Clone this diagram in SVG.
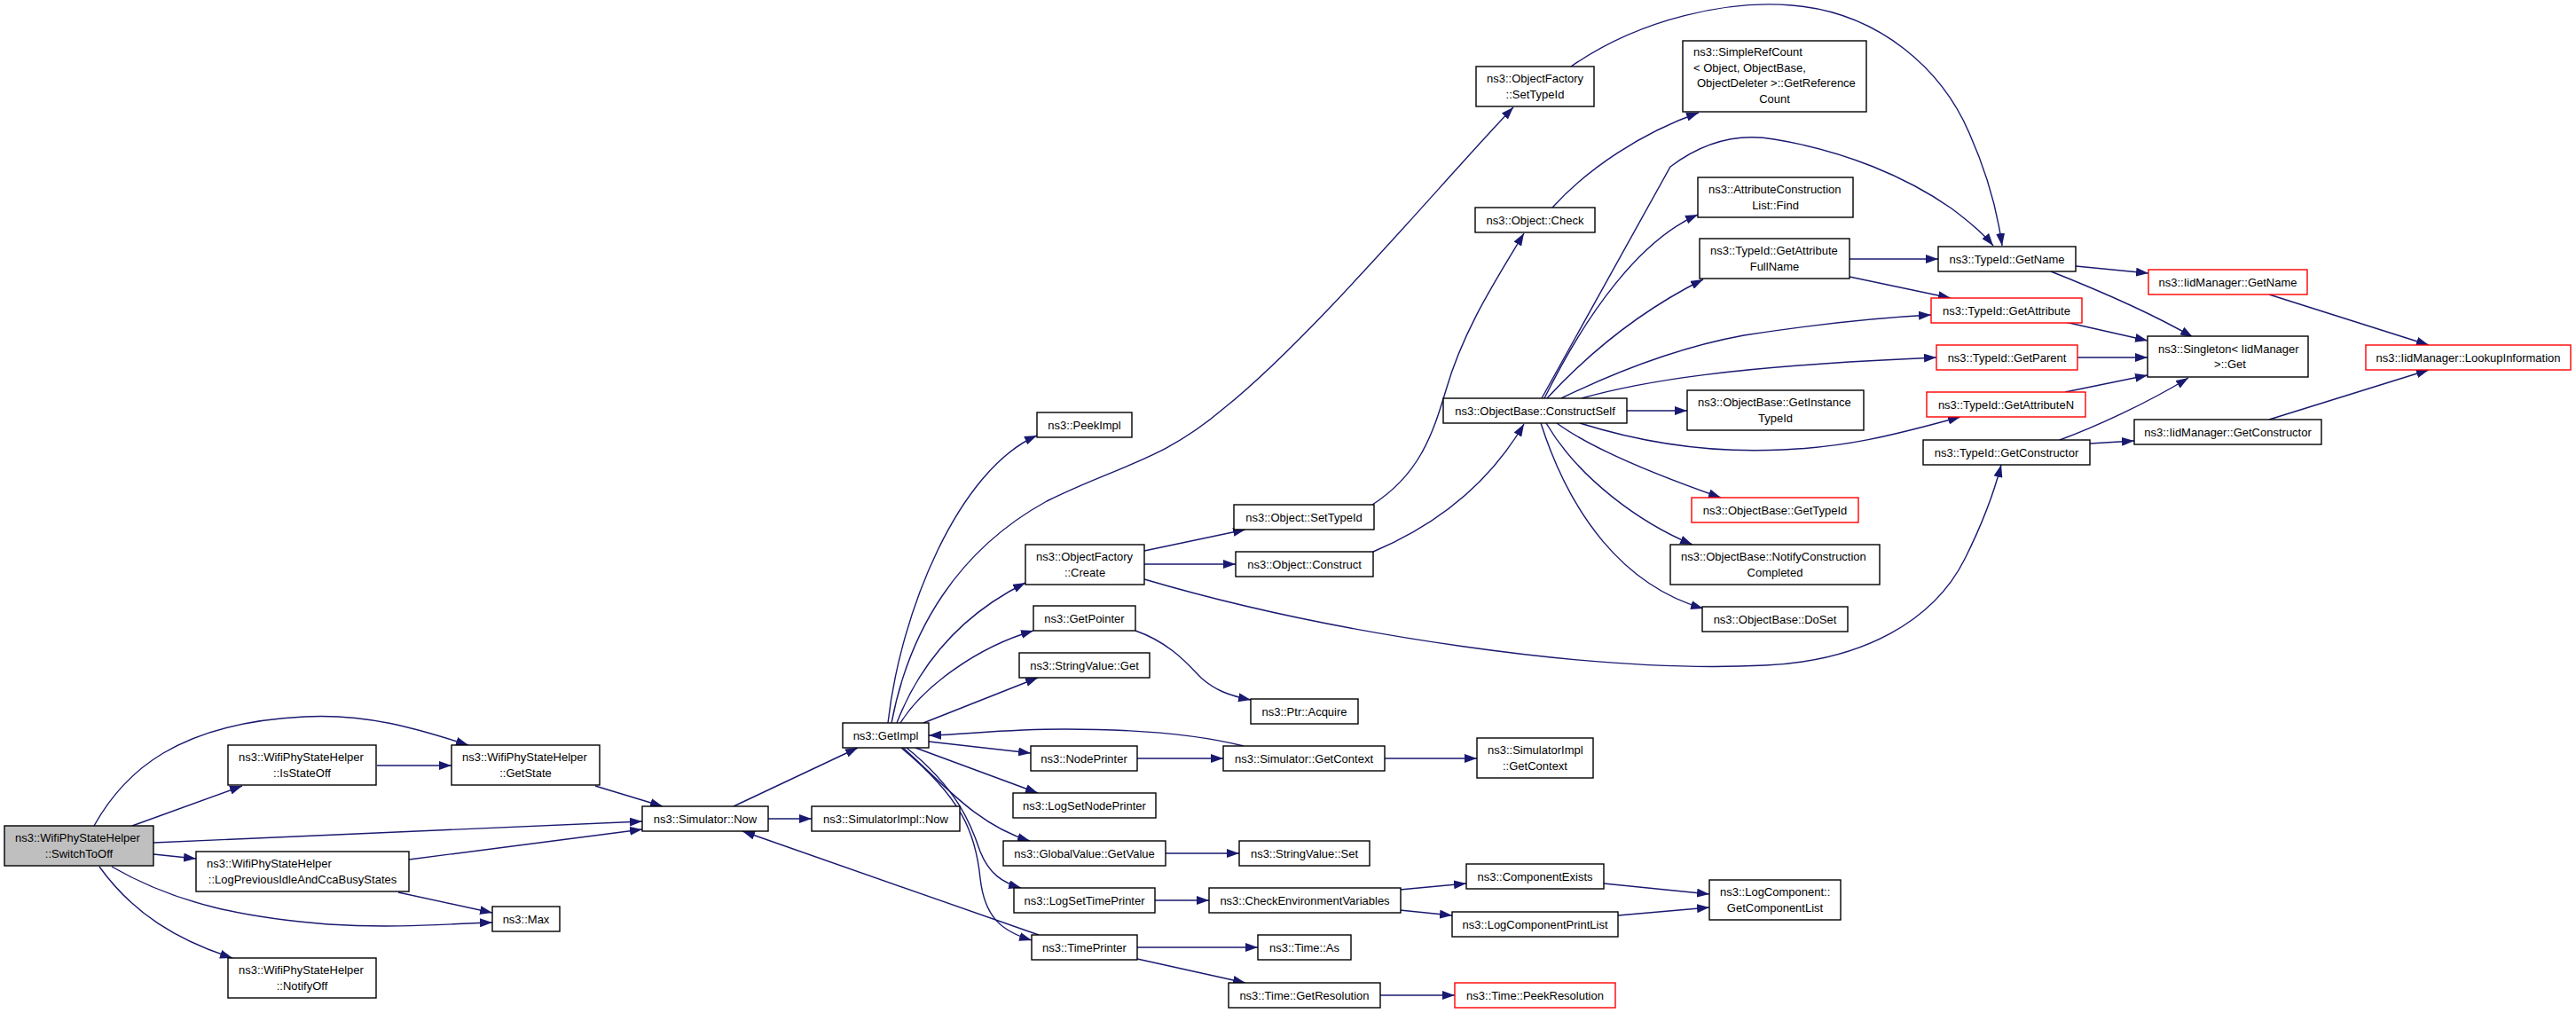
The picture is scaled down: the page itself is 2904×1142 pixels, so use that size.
<svg xmlns="http://www.w3.org/2000/svg" width="2904" height="1142" viewBox="0 0 2904 1142">
<defs>
<marker id="a" markerUnits="userSpaceOnUse" markerWidth="14" markerHeight="10" viewBox="0 0 14 10" refX="14" refY="5" orient="auto"><path d="M0,0 L14,5 L0,10 z" fill="#191970"/></marker>
<style>
.n rect{fill:#fff;stroke:#000;stroke-width:1.4}
.r rect{stroke:#f00}
.g rect{fill:#bfbfbf}
text{font-family:"Liberation Sans",Arial,Helvetica,sans-serif;font-size:13px;fill:#000}
.c{text-anchor:middle}
.e path{fill:none;stroke:#191970;stroke-width:1.4;marker-end:url(#a)}
</style>
</defs>
<rect width="2904" height="1142" fill="#fff"/>
<g id="edges" class="e">
<path d="M106,931 C140,870 200,815 343,808 C420,804 480,825 528,840"/>
<path d="M149,931 L273,886"/>
<path d="M173,950 L724,926"/>
<path d="M173,963 L221,968"/>
<path d="M126,977 C200,1020 280,1035 370,1042 C450,1047 510,1041 555,1040"/>
<path d="M112,977 C150,1030 200,1060 262,1080"/>
<path d="M425,863 L509,863"/>
<path d="M671,886 L747,909"/>
<path d="M461,969 L724,935"/>
<path d="M449,1006 L555,1029"/>
<path d="M827,909 L967,843"/>
<path d="M866,923 L915,923"/>
<path d="M1171,1054 L837,937"/>
<path d="M1001,815 C1015,690 1080,530 1169,491"/>
<path d="M1005,815 C1025,710 1080,620 1180,565 C1260,525 1310,520 1380,460 C1480,380 1630,200 1706,121"/>
<path d="M1011,815 C1040,740 1090,690 1156,657"/>
<path d="M1015,815 C1040,775 1100,730 1165,711"/>
<path d="M1041,815 L1170,764"/>
<path d="M1047,836 L1162,849"/>
<path d="M1032,843 L1170,894"/>
<path d="M1018,843 C1060,880 1100,930 1161,948"/>
<path d="M1022,843 C1080,890 1095,930 1105,960 C1115,985 1130,995 1151,1001"/>
<path d="M1016,843 C1085,900 1100,940 1105,990 C1110,1035 1130,1050 1163,1060"/>
<path d="M1402,841 C1350,828 1280,822 1200,822 C1130,822 1090,828 1047,829"/>
<path d="M1282,855 L1379,855"/>
<path d="M1280,711 C1320,725 1340,750 1355,765 C1370,778 1385,784 1410,789"/>
<path d="M1290,621 L1404,597"/>
<path d="M1290,636 L1393,636"/>
<path d="M1290,653 C1500,715 1800,760 1990,750 C2100,745 2180,700 2215,630 C2235,590 2248,555 2256,524"/>
<path d="M1547,569 C1600,535 1615,490 1630,440 C1650,370 1690,310 1718,263"/>
<path d="M1548,622 C1600,600 1670,560 1718,478"/>
<path d="M1750,234 C1790,190 1850,150 1915,127"/>
<path d="M1771,75 C1850,20 1950,0 2020,6 C2120,14 2190,80 2220,150 C2240,195 2252,240 2257,277"/>
<path d="M1738,449 L1883,188 C1920,160 1960,150 2000,157 C2080,170 2150,200 2200,235 C2220,250 2235,262 2247,277"/>
<path d="M1741,449 C1790,350 1850,270 1914,242"/>
<path d="M1744,449 C1780,410 1840,355 1920,315"/>
<path d="M1760,449 C1830,415 1900,390 1966,378 C2050,365 2120,358 2177,355"/>
<path d="M1783,449 C1850,430 1950,413 2183,403"/>
<path d="M1834,463 L1902,463"/>
<path d="M1781,477 C1870,505 1950,510 2010,507 C2080,504 2130,492 2210,470"/>
<path d="M1755,477 C1800,510 1880,540 1940,561"/>
<path d="M1743,477 C1780,540 1850,590 1908,614"/>
<path d="M1737,477 C1770,580 1830,660 1920,686"/>
<path d="M2085,292 L2185,292"/>
<path d="M2085,312 L2199,336"/>
<path d="M2340,300 L2422,308"/>
<path d="M2312,306 C2360,325 2420,350 2472,380"/>
<path d="M2328,363 L2421,384"/>
<path d="M2342,403 L2421,403"/>
<path d="M2328,442 L2421,423"/>
<path d="M2322,496 C2360,482 2420,455 2467,426"/>
<path d="M2356,500 L2406,497"/>
<path d="M2558,473 L2738,417"/>
<path d="M2558,332 L2738,389"/>
<path d="M1561,855 L1665,855"/>
<path d="M1314,962 L1397,962"/>
<path d="M1302,1015 L1363,1015"/>
<path d="M1578,1003 L1653,996"/>
<path d="M1578,1026 L1637,1032"/>
<path d="M1808,996 L1927,1008"/>
<path d="M1824,1032 L1927,1023"/>
<path d="M1282,1068 L1418,1068"/>
<path d="M1282,1081 L1404,1108"/>
<path d="M1556,1122 L1640,1122"/>
</g>
<g id="switchtooff" class="n g"><rect x="5" y="931" width="168" height="45"/><text x="17" y="949">ns3::WifiPhyStateHelper</text><text class="c" x="89" y="966.5">::SwitchToOff</text></g>
<g id="isstateoff" class="n"><rect x="257" y="840" width="167" height="45"/><text x="269" y="858">ns3::WifiPhyStateHelper</text><text class="c" x="340.5" y="875.5">::IsStateOff</text></g>
<g id="getstate" class="n"><rect x="509" y="840" width="167" height="45"/><text x="521" y="858">ns3::WifiPhyStateHelper</text><text class="c" x="592.5" y="875.5">::GetState</text></g>
<g id="logprev" class="n"><rect x="221" y="960" width="240" height="45"/><text x="233" y="978">ns3::WifiPhyStateHelper</text><text class="c" x="341" y="995.5">::LogPreviousIdleAndCcaBusyStates</text></g>
<g id="max" class="n"><rect x="555" y="1022" width="76" height="28"/><text class="c" x="593" y="1041">ns3::Max</text></g>
<g id="notifyoff" class="n"><rect x="257" y="1080" width="167" height="45"/><text x="269" y="1098">ns3::WifiPhyStateHelper</text><text class="c" x="340.5" y="1115.5">::NotifyOff</text></g>
<g id="simnow" class="n"><rect x="724" y="909" width="142" height="28"/><text class="c" x="795" y="928">ns3::Simulator::Now</text></g>
<g id="simimplnow" class="n"><rect x="915" y="909" width="167" height="28"/><text class="c" x="998.5" y="928">ns3::SimulatorImpl::Now</text></g>
<g id="getimpl" class="n"><rect x="950" y="815" width="97" height="28"/><text class="c" x="998.5" y="834">ns3::GetImpl</text></g>
<g id="peekimpl" class="n"><rect x="1169" y="465" width="107" height="28"/><text class="c" x="1222.5" y="484">ns3::PeekImpl</text></g>
<g id="ofcreate" class="n"><rect x="1156" y="614" width="134" height="45"/><text x="1168" y="632">ns3::ObjectFactory</text><text class="c" x="1223" y="649.5">::Create</text></g>
<g id="getpointer" class="n"><rect x="1165" y="683" width="115" height="28"/><text class="c" x="1222.5" y="702">ns3::GetPointer</text></g>
<g id="svget" class="n"><rect x="1149" y="736" width="147" height="28"/><text class="c" x="1222.5" y="755">ns3::StringValue::Get</text></g>
<g id="nodeprinter" class="n"><rect x="1162" y="841" width="120" height="28"/><text class="c" x="1222" y="860">ns3::NodePrinter</text></g>
<g id="logsetnode" class="n"><rect x="1142" y="894" width="161" height="28"/><text class="c" x="1222.5" y="913">ns3::LogSetNodePrinter</text></g>
<g id="gvget" class="n"><rect x="1131" y="948" width="183" height="28"/><text class="c" x="1222.5" y="967">ns3::GlobalValue::GetValue</text></g>
<g id="logsettime" class="n"><rect x="1143" y="1001" width="159" height="28"/><text class="c" x="1222.5" y="1020">ns3::LogSetTimePrinter</text></g>
<g id="timeprinter" class="n"><rect x="1163" y="1054" width="119" height="28"/><text class="c" x="1222.5" y="1073">ns3::TimePrinter</text></g>
<g id="ofsettypeid" class="n"><rect x="1664" y="75" width="133" height="45"/><text x="1676" y="93">ns3::ObjectFactory</text><text class="c" x="1730.5" y="110.5">::SetTypeId</text></g>
<g id="objsettypeid" class="n"><rect x="1391" y="569" width="158" height="28"/><text class="c" x="1470" y="588">ns3::Object::SetTypeId</text></g>
<g id="objconstruct" class="n"><rect x="1393" y="622" width="155" height="28"/><text class="c" x="1470.5" y="641">ns3::Object::Construct</text></g>
<g id="ptracquire" class="n"><rect x="1410" y="788" width="121" height="28"/><text class="c" x="1470.5" y="807">ns3::Ptr::Acquire</text></g>
<g id="simgetcontext" class="n"><rect x="1379" y="841" width="182" height="28"/><text class="c" x="1470" y="860">ns3::Simulator::GetContext</text></g>
<g id="svset" class="n"><rect x="1397" y="948" width="147" height="28"/><text class="c" x="1470.5" y="967">ns3::StringValue::Set</text></g>
<g id="checkenv" class="n"><rect x="1363" y="1001" width="216" height="28"/><text class="c" x="1471" y="1020">ns3::CheckEnvironmentVariables</text></g>
<g id="timeas" class="n"><rect x="1418" y="1054" width="105" height="28"/><text class="c" x="1470.5" y="1073">ns3::Time::As</text></g>
<g id="timegetres" class="n"><rect x="1385" y="1108" width="171" height="28"/><text class="c" x="1470.5" y="1127">ns3::Time::GetResolution</text></g>
<g id="objcheck" class="n"><rect x="1663" y="234" width="135" height="28"/><text class="c" x="1730.5" y="253">ns3::Object::Check</text></g>
<g id="constructself" class="n"><rect x="1627" y="449" width="207" height="28"/><text class="c" x="1730.5" y="468">ns3::ObjectBase::ConstructSelf</text></g>
<g id="simimplgetctx" class="n"><rect x="1665" y="832" width="131" height="45"/><text x="1677" y="850">ns3::SimulatorImpl</text><text class="c" x="1730.5" y="867.5">::GetContext</text></g>
<g id="compexists" class="n"><rect x="1653" y="974" width="155" height="28"/><text class="c" x="1730.5" y="993">ns3::ComponentExists</text></g>
<g id="logcompprint" class="n"><rect x="1637" y="1028" width="187" height="28"/><text class="c" x="1730.5" y="1047">ns3::LogComponentPrintList</text></g>
<g id="peekres" class="n r"><rect x="1640" y="1108" width="181" height="28"/><text class="c" x="1730.5" y="1127">ns3::Time::PeekResolution</text></g>
<g id="simplerefcount" class="n"><rect x="1897" y="46" width="207" height="80"/><text x="1909" y="63">ns3::SimpleRefCount</text><text x="1909" y="80.5">&lt; Object, ObjectBase,</text><text x="1913" y="98">ObjectDeleter &gt;::GetReference</text><text class="c" x="2000.5" y="115.5">Count</text></g>
<g id="attrfind" class="n"><rect x="1914" y="200" width="175" height="45"/><text x="1926" y="218">ns3::AttributeConstruction</text><text class="c" x="2001.5" y="235.5">List::Find</text></g>
<g id="getattrfull" class="n"><rect x="1916" y="269" width="169" height="45"/><text x="1928" y="287">ns3::TypeId::GetAttribute</text><text class="c" x="2000.5" y="304.5">FullName</text></g>
<g id="getinsttypeid" class="n"><rect x="1902" y="440" width="199" height="45"/><text x="1914" y="458">ns3::ObjectBase::GetInstance</text><text class="c" x="2001.5" y="475.5">TypeId</text></g>
<g id="obgettypeid" class="n r"><rect x="1907" y="561" width="188" height="28"/><text class="c" x="2001" y="580">ns3::ObjectBase::GetTypeId</text></g>
<g id="notifyconst" class="n"><rect x="1883" y="614" width="236" height="45"/><text x="1895" y="632">ns3::ObjectBase::NotifyConstruction</text><text class="c" x="2001" y="649.5">Completed</text></g>
<g id="doset" class="n"><rect x="1919" y="684" width="164" height="28"/><text class="c" x="2001" y="703">ns3::ObjectBase::DoSet</text></g>
<g id="getcomplist" class="n"><rect x="1927" y="992" width="148" height="45"/><text x="1939" y="1010">ns3::LogComponent::</text><text class="c" x="2001" y="1027.5">GetComponentList</text></g>
<g id="getname" class="n"><rect x="2185" y="278" width="155" height="28"/><text class="c" x="2262.5" y="297">ns3::TypeId::GetName</text></g>
<g id="getattr" class="n r"><rect x="2177" y="336" width="170" height="28"/><text class="c" x="2262" y="355">ns3::TypeId::GetAttribute</text></g>
<g id="getparent" class="n r"><rect x="2183" y="389" width="159" height="28"/><text class="c" x="2262.5" y="408">ns3::TypeId::GetParent</text></g>
<g id="getattrn" class="n r"><rect x="2172" y="442" width="179" height="28"/><text class="c" x="2261.5" y="461">ns3::TypeId::GetAttributeN</text></g>
<g id="getctor" class="n"><rect x="2168" y="496" width="188" height="28"/><text class="c" x="2262" y="515">ns3::TypeId::GetConstructor</text></g>
<g id="singleton" class="n"><rect x="2421" y="379" width="181" height="46"/><text x="2433" y="398">ns3::Singleton&lt; IidManager</text><text class="c" x="2514" y="415">&gt;::Get</text></g>
<g id="iidgetname" class="n r"><rect x="2422" y="304" width="179" height="28"/><text class="c" x="2511.5" y="323">ns3::IidManager::GetName</text></g>
<g id="iidgetctor" class="n"><rect x="2406" y="473" width="211" height="28"/><text class="c" x="2511.5" y="492">ns3::IidManager::GetConstructor</text></g>
<g id="lookup" class="n r"><rect x="2667" y="389" width="231" height="28"/><text class="c" x="2782.5" y="408">ns3::IidManager::LookupInformation</text></g>
</svg>
